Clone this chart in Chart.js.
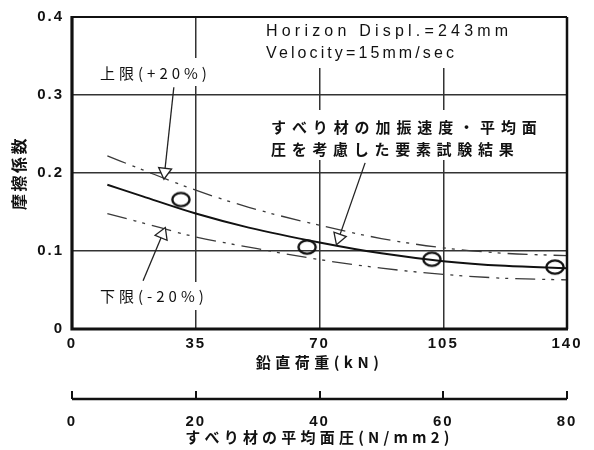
<!DOCTYPE html>
<html>
<head>
<meta charset="utf-8">
<script src="https://cdn.jsdelivr.net/npm/chart.js@4/dist/chart.umd.min.js"></script>
<style>
html,body{margin:0;padding:0;background:#fff;}
#wrap{width:594px;height:450px;}
</style>
</head>
<body>
<div id="wrap"><canvas id="c" width="594" height="450"></canvas></div>
<script>
// ---- data ----
const loadKN   = [30.8, 66.5, 101.8, 136.6];          // test points, vertical load (kN)
const muTest   = [0.166, 0.105, 0.0895, 0.0794];       // friction coefficient of test points
const curveKN  = [10, 20, 35, 50, 70, 87.5, 105, 122.5, 140];
const muMean   = [0.185, 0.170, 0.148, 0.130, 0.111, 0.097, 0.087, 0.081, 0.078];
const muUpper  = [0.222, 0.204, 0.178, 0.156, 0.133, 0.116, 0.104, 0.097, 0.094];
const muLower  = [0.148, 0.136, 0.118, 0.105, 0.089, 0.078, 0.070, 0.065, 0.063];
const xTicksKN = [0, 35, 70, 105, 140];
const xTicksP  = [0, 20, 40, 60, 80];
const yTicks   = [0, 0.1, 0.2, 0.3, 0.4];

const toXY = (xs, ys) => xs.map((x, i) => ({x: x, y: ys[i]}));

// ellipse marker
const mk = document.createElement('canvas');
mk.width = 22; mk.height = 18;
(function(){
  const g = mk.getContext('2d');
  g.lineWidth = 2.4; g.strokeStyle = '#111';
  g.beginPath(); g.ellipse(11, 9, 8.6, 6.6, 0, 0, Math.PI * 2); g.stroke();
})();

const JP = '"Noto Sans CJK JP", "Liberation Sans", sans-serif';
const LAT = '"Liberation Sans", Arial, sans-serif';
const TICK_LS = '2px';
const titleSpacing = {x: '4.5px', x2: '4.2px', y: '2.5px'};

// annotation layout
const notes = {
  boxes: [
    {x0: 98, x1: 214, y0: 58, y1: 86},
    {x0: 262, x1: 548, y0: 18, y1: 68},
    {x0: 262, x1: 548, y0: 110, y1: 160},
    {x0: 98, x1: 214, y0: 282, y1: 310}
  ],
  texts: [
    {t: 'Horizon Displ.=243mm', x: 266, y: 32, font: '16px ' + LAT, ls: '4.2px'},
    {t: 'Velocity=15mm/sec', x: 266, y: 54, font: '16px ' + LAT, ls: '3.1px'},
    {t: 'すべり材の加振速度・平均面', x: 271, y: 127, font: 'bold 15px ' + JP, ls: '5.9px'},
    {t: '圧を考慮した要素試験結果', x: 271, y: 149, font: 'bold 15px ' + JP, ls: '5.7px'},
    {t: '上限(+20%)', x: 100, y: 73, font: '15px ' + JP, ls: '4px'},
    {t: '下限(-20%)', x: 100, y: 296, font: '15px ' + JP, ls: '4px'}
  ],
  arrows: [
    {from: [28.8, 0.310], to: [26.0, 0.192]},
    {from: [20.1, 0.062], to: [26.4, 0.130]},
    {from: [82.9, 0.213], to: [74.8, 0.108]}
  ]
};

const deco = {
  id: 'deco',
  afterLayout(chart) {
    Object.keys(titleSpacing).forEach(k => {
      const s = chart.scales[k];
      if (!s || s._lsWrapped) return;
      const orig = s.drawTitle;
      s.drawTitle = function() {
        const prev = this.ctx.letterSpacing;
        this.ctx.letterSpacing = titleSpacing[k];
        orig.apply(this, arguments);
        this.ctx.letterSpacing = prev;
      };
      s._lsWrapped = true;
    });
  },
  beforeDraw(chart) { chart.ctx.letterSpacing = TICK_LS; },
  beforeDatasetsDraw(chart) {
    const ctx = chart.ctx;
    ctx.save();
    ctx.letterSpacing = '0px';
    ctx.fillStyle = '#fff';
    notes.boxes.forEach(b => ctx.fillRect(b.x0, b.y0, b.x1 - b.x0, b.y1 - b.y0));
    ctx.fillStyle = '#111';
    ctx.textBaseline = 'middle';
    ctx.textAlign = 'left';
    notes.texts.forEach(t => {
      ctx.font = t.font;
      ctx.letterSpacing = t.ls;
      ctx.fillText(t.t, t.x, t.y);
    });
    ctx.restore();
  },
  afterDatasetsDraw(chart) {
    const ctx = chart.ctx, sx = chart.scales.x, sy = chart.scales.y;
    ctx.save();
    ctx.letterSpacing = '0px';
    notes.arrows.forEach(a => {
      const x1 = sx.getPixelForValue(a.from[0]), y1 = sy.getPixelForValue(a.from[1]);
      const x2 = sx.getPixelForValue(a.to[0]),   y2 = sy.getPixelForValue(a.to[1]);
      const ang = Math.atan2(y2 - y1, x2 - x1);
      const L = 11, W = 6.5;
      const bx = x2 - L * Math.cos(ang), by = y2 - L * Math.sin(ang);
      ctx.strokeStyle = '#222'; ctx.lineWidth = 1.3;
      ctx.beginPath(); ctx.moveTo(x1, y1); ctx.lineTo(bx, by); ctx.stroke();
      ctx.beginPath();
      ctx.moveTo(x2, y2);
      ctx.lineTo(bx + W * Math.sin(ang), by - W * Math.cos(ang));
      ctx.lineTo(bx - W * Math.sin(ang), by + W * Math.cos(ang));
      ctx.closePath();
      ctx.fillStyle = '#fff'; ctx.fill(); ctx.stroke();
    });
    // plot frame
    const a = chart.chartArea;
    ctx.strokeStyle = '#111';
    ctx.lineWidth = 2; ctx.beginPath(); ctx.moveTo(a.left, a.top); ctx.lineTo(a.right, a.top); ctx.stroke();
    ctx.lineWidth = 2.5; ctx.beginPath(); ctx.moveTo(a.right, a.top); ctx.lineTo(a.right, a.bottom); ctx.stroke();
    ctx.lineWidth = 3.2; ctx.beginPath(); ctx.moveTo(a.left, a.top - 1); ctx.lineTo(a.left, a.bottom); ctx.lineTo(a.right + 1, a.bottom); ctx.stroke();
    // secondary axis line
    const s2 = chart.scales.x2;
    const ly = s2.top + 8;
    ctx.lineWidth = 2.6;
    ctx.beginPath(); ctx.moveTo(s2.left, ly); ctx.lineTo(s2.right, ly); ctx.stroke();
    ctx.restore();
  },
  afterDraw(chart) { chart.ctx.letterSpacing = '0px'; }
};

const hideEnds = (lo, hi, col) => c => (c.tick && (Math.abs(c.tick.value - lo) < 1e-9 || Math.abs(c.tick.value - hi) < 1e-9)) ? 'rgba(0,0,0,0)' : col;

new Chart(document.getElementById('c'), {
  type: 'line',
  data: {
    datasets: [
      {label: 'mean', data: toXY(curveKN, muMean), borderColor: '#111', borderWidth: 2, pointRadius: 0, cubicInterpolationMode: 'monotone', fill: false},
      {label: 'upper', data: toXY(curveKN, muUpper), borderColor: '#3a3a3a', borderWidth: 1.3, borderDash: [20, 7, 3, 6, 3, 7], pointRadius: 0, cubicInterpolationMode: 'monotone', fill: false},
      {label: 'lower', data: toXY(curveKN, muLower), borderColor: '#3a3a3a', borderWidth: 1.3, borderDash: [20, 7, 3, 6, 3, 7], pointRadius: 0, cubicInterpolationMode: 'monotone', fill: false},
      {label: 'test', data: toXY(loadKN, muTest), showLine: false, pointStyle: mk, pointRadius: 8, pointHoverRadius: 8}
    ]
  },
  options: {
    responsive: false,
    animation: false,
    events: [],
    layout: {padding: {top: 12, right: 27, left: 0, bottom: 0}},
    plugins: {legend: {display: false}, tooltip: {enabled: false}},
    scales: {
      x: {
        type: 'linear', position: 'bottom', min: 0, max: 140, weight: 0,
        afterBuildTicks: s => { s.ticks = xTicksKN.map(v => ({value: v})); },
        afterFit: s => { s.height = 62; },
        grid: {color: hideEnds(0, 140, '#333'), lineWidth: 1.5, drawTicks: false},
        border: {display: false},
        ticks: {padding: 6, color: '#111', font: {family: LAT, size: 15, weight: 'bold'}, maxRotation: 0},
        title: {display: true, text: '鉛直荷重(kN)', color: '#111', font: {family: JP, size: 15, weight: 'bold'}, padding: {top: 0, bottom: 20}}
      },
      x2: {
        type: 'linear', position: 'bottom', min: 0, max: 80, weight: 1,
        afterBuildTicks: s => { s.ticks = xTicksP.map(v => ({value: v})); },
        afterFit: s => { s.height = 59; },
        grid: {drawOnChartArea: false, drawTicks: true, tickLength: 8, color: '#111', lineWidth: 2},
        border: {display: false},
        ticks: {padding: 14, color: '#111', font: {family: LAT, size: 15, weight: 'bold'}, maxRotation: 0},
        title: {display: true, text: 'すべり材の平均面圧(N/mm2)', color: '#111', font: {family: JP, size: 15, weight: 'bold'}, padding: {top: 0, bottom: 4}}
      },
      y: {
        type: 'linear', min: 0, max: 0.4,
        afterBuildTicks: s => { s.ticks = yTicks.map(v => ({value: v})); },
        afterFit: s => { s.width = 72; },
        grid: {color: hideEnds(0, 0.4, '#333'), lineWidth: 1.6, drawTicks: false},
        border: {display: false},
        ticks: {padding: 8, color: '#111', font: {family: LAT, size: 15, weight: 'bold'}, callback: v => v === 0 ? '0' : v.toFixed(1)},
        title: {display: true, text: '摩擦係数', color: '#111', font: {family: JP, size: 16, weight: 'bold'}, padding: {top: 9, bottom: 0}}
      }
    }
  },
  plugins: [deco]
});
</script>
</body>
</html>
